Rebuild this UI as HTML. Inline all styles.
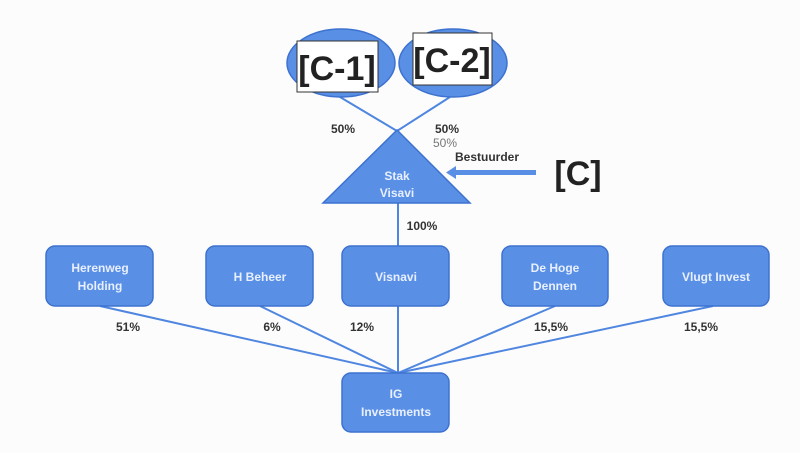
<!DOCTYPE html>
<html><head><style>
body{margin:0;width:800px;height:453px;background:#fff;overflow:hidden}
</style></head><body>
<svg width="800" height="453" viewBox="0 0 800 453" xmlns="http://www.w3.org/2000/svg" font-family="Liberation Sans, sans-serif">
<rect width="800" height="453" fill="#fcfcfc"/>
<g stroke="#4f86e0" stroke-width="2" fill="none">
<line x1="340" y1="97" x2="397" y2="131"/>
<line x1="450" y1="97" x2="397" y2="131"/>
<line x1="398" y1="203" x2="398" y2="246"/>
<line x1="100" y1="306" x2="398" y2="373"/>
<line x1="260" y1="306" x2="398" y2="373"/>
<line x1="398" y1="306" x2="398" y2="373"/>
<line x1="555" y1="306" x2="398" y2="373"/>
<line x1="713" y1="306" x2="398" y2="373"/>
</g>
<g fill="#5a8fe6" stroke="#3d72cf" stroke-width="1.5">
<ellipse cx="341" cy="63" rx="54" ry="34"/>
<ellipse cx="453" cy="63" rx="54" ry="34"/>
<polygon points="397,130 323,203 470,203"/>
<rect x="46" y="246" width="107" height="60" rx="9"/>
<rect x="206" y="246" width="107" height="60" rx="9"/>
<rect x="342" y="246" width="107" height="60" rx="9"/>
<rect x="502" y="246" width="106" height="60" rx="9"/>
<rect x="663" y="246" width="106" height="60" rx="9"/>
<rect x="342" y="373" width="107" height="59" rx="9"/>
</g>
<rect x="297" y="41" width="81" height="51" fill="#fff" stroke="#333" stroke-width="1"/>
<rect x="413" y="33" width="79" height="52" fill="#fff" stroke="#333" stroke-width="1"/>
<g font-family="Liberation Sans, sans-serif" font-size="34" font-weight="bold" fill="#222" text-anchor="middle">
<text x="337" y="80">[C-1]</text>
<text x="452" y="72">[C-2]</text>
<text x="578" y="185">[C]</text>
</g>
<rect x="450" y="170" width="86" height="5" fill="#5a8fe6"/>
<polygon points="446,172.5 456,166 456,179" fill="#5a8fe6"/>
<g font-size="12" fill="#333" text-anchor="middle" font-weight="bold">
<text x="343" y="133">50%</text>
<text x="447" y="133">50%</text>
<text x="445" y="147" fill="#777" font-weight="normal">50%</text>
<text x="487" y="161">Bestuurder</text>
<text x="422" y="230">100%</text>
<text x="128" y="331">51%</text>
<text x="272" y="331">6%</text>
<text x="362" y="331">12%</text>
<text x="551" y="331">15,5%</text>
<text x="701" y="331">15,5%</text>
</g>
<g font-size="12" fill="#e8f0ff" text-anchor="middle" font-weight="bold">
<text x="397" y="180">Stak</text>
<text x="397" y="197">Visavi</text>
<text x="100" y="272">Herenweg</text>
<text x="100" y="290">Holding</text>
<text x="260" y="281">H Beheer</text>
<text x="396" y="281">Visnavi</text>
<text x="555" y="272">De Hoge</text>
<text x="555" y="290">Dennen</text>
<text x="716" y="281">Vlugt Invest</text>
<text x="396" y="398">IG</text>
<text x="396" y="416">Investments</text>
</g>
</svg>
</body></html>
